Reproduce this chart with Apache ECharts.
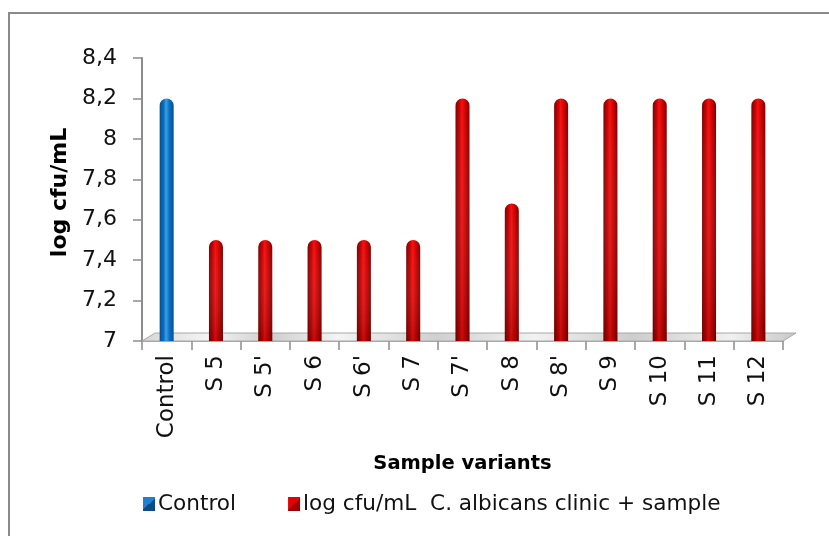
<!DOCTYPE html>
<html>
<head>
<meta charset="utf-8">
<script src="https://cdn.jsdelivr.net/npm/echarts@6/dist/echarts.min.js"></script>
<style>
  html, body { margin: 0; padding: 0; background: #fff; }
  #chart { width: 829px; height: 536px; }
</style>
</head>
<body>
<div id="chart"></div>
<script>
// Sample variants and their log cfu/mL counts
const categories = ['Control', 'S 5', "S 5'", 'S 6', "S 6'", 'S 7', "S 7'", 'S 8', "S 8'", 'S 9', 'S 10', 'S 11', 'S 12'];
const controlValues = [8.2];
const sampleValues = [7.5, 7.5, 7.5, 7.5, 7.5, 8.2, 7.68, 8.2, 8.2, 8.2, 8.2, 8.2];
const seriesNames = ['Control', 'log cfu/mL  C. albicans clinic + sample'];
const yMin = 7, yMax = 8.4, yStep = 0.2;

const FONT = '"DejaVu Sans", sans-serif';
const gridLeft = 142, gridRight = 46, gridTop = 58, gridBottom = 195;

// One column per category: control fills the first slot, samples the rest
const controlData = categories.map((c, i) => i < controlValues.length ? controlValues[i] : '-');
const sampleData = categories.map((c, i) => i < controlValues.length ? '-' : sampleValues[i - controlValues.length]);

function cylinder(edge, mid, hi) {
  return new echarts.graphic.LinearGradient(0, 0, 1, 0, [
    { offset: 0, color: edge },
    { offset: 0.3, color: mid },
    { offset: 0.45, color: hi },
    { offset: 0.7, color: mid },
    { offset: 1, color: edge }
  ]);
}
// legend swatch: square split along the diagonal into a light and a dark half
function swatch(light, dark) {
  return new echarts.graphic.LinearGradient(0, 0, 1, 1, [
    { offset: 0, color: light }, { offset: 0.5, color: light },
    { offset: 0.5, color: dark }, { offset: 1, color: dark }
  ]);
}
const shade = new echarts.graphic.LinearGradient(0, 0, 0, 1, [
  { offset: 0, color: 'rgba(255,255,255,0.0)' },
  { offset: 1, color: 'rgba(60,0,0,0.25)' }
]);

const chart = echarts.init(document.getElementById('chart'));

const option = {
  animation: false,
  backgroundColor: '#fff',
  grid: { left: gridLeft, right: gridRight, top: gridTop, bottom: gridBottom },
  legend: {
    data: [
      { name: seriesNames[0], itemStyle: { color: swatch('#1f7fd0', '#0c4c86') } },
      { name: seriesNames[1], itemStyle: { color: swatch('#e60000', '#a00000') } }
    ],
    left: 138,
    top: 488,
    itemWidth: 12,
    itemHeight: 14,
    itemGap: 52,
    textStyle: { fontFamily: FONT, fontSize: 21.6, color: '#111', padding: [0, 0, 0, -2] },
    icon: 'rect'
  },
  xAxis: {
    type: 'category',
    data: categories,
    name: 'Sample variants',
    nameLocation: 'middle',
    nameGap: 113,
    nameTextStyle: { fontFamily: FONT, fontSize: 19.5, fontWeight: 'bold', color: '#000' },
    axisLine: { show: true, lineStyle: { color: '#8c8c8c', width: 1.5 } },
    axisTick: { show: true, length: 9, lineStyle: { color: '#8c8c8c', width: 1.5 } },
    axisLabel: {
      rotate: 90, margin: 14, fontFamily: FONT, fontSize: 23, color: '#111'
    }
  },
  yAxis: {
    type: 'value',
    min: yMin, max: yMax, interval: yStep,
    name: 'log cfu/mL',
    nameLocation: 'middle',
    nameRotate: 90,
    nameGap: 70,
    nameTextStyle: {
      fontFamily: FONT, fontSize: 22, fontWeight: 'bold', color: '#000', padding: [0, 0, 0, 14]
    },
    axisLine: { show: true, lineStyle: { color: '#8c8c8c', width: 2 } },
    axisTick: { show: true, length: 9, lineStyle: { color: '#8c8c8c', width: 1.5 } },
    splitLine: { show: false },
    axisLabel: {
      margin: 25, fontFamily: FONT, fontSize: 22, color: '#111',
      formatter: v => String(Number(v.toFixed(1))).replace('.', ',')
    }
  },
  series: [
    {
      name: seriesNames[0], type: 'bar', data: controlData, barWidth: 14, barGap: '-100%', z: 3,
      itemStyle: { color: cylinder('#084e8c', '#0a6fc4', '#3d9fe6'), borderRadius: [7, 7, 0, 0] }
    },
    {
      name: seriesNames[1], type: 'bar', data: sampleData, barWidth: 14, z: 3,
      itemStyle: { color: cylinder('#7a0000', '#d00000', '#f41010'), borderRadius: [7, 7, 0, 0] }
    },
    {
      // vertical shading over the red cylinders
      name: 'shade', type: 'bar', data: sampleData, barWidth: 14, barGap: '-100%', z: 4,
      silent: true, legendHoverLink: false,
      itemStyle: { color: shade, borderRadius: [7, 7, 0, 0] }
    }
  ]
};
chart.setOption(option);

// Grey floor plate under the columns, plus the outer frame
const W = chart.getWidth();
const y0 = chart.convertToPixel({ yAxisIndex: 0 }, yMin);
const x0 = gridLeft, x1 = W - gridRight;
const dx = 13, dy = 8;
chart.setOption({
  graphic: [
    {
      type: 'polygon', z: 1,
      shape: { points: [[x0, y0], [x1, y0], [x1 + dx, y0 - dy], [x0 + dx, y0 - dy]] },
      style: {
        fill: new echarts.graphic.LinearGradient(0, 0, 1, 0, [
          { offset: 0, color: '#d6d6d6' }, { offset: 0.1, color: '#f4f4f4' },
          { offset: 0.2, color: '#cfcfcf' }, { offset: 0.3, color: '#f4f4f4' },
          { offset: 0.45, color: '#d0d0d0' }, { offset: 0.6, color: '#f2f2f2' },
          { offset: 0.75, color: '#cdcdcd' }, { offset: 0.9, color: '#f0f0f0' },
          { offset: 1, color: '#c8c8c8' }
        ]),
        stroke: '#a8a8a8', lineWidth: 1
      }
    },
    {
      type: 'rect', z: 0, silent: true,
      shape: { x: 9, y: 13, width: W + 20, height: chart.getHeight() + 20 },
      style: { fill: 'none', stroke: '#8a8a8a', lineWidth: 2 }
    }
  ]
});
</script>
</body>
</html>
